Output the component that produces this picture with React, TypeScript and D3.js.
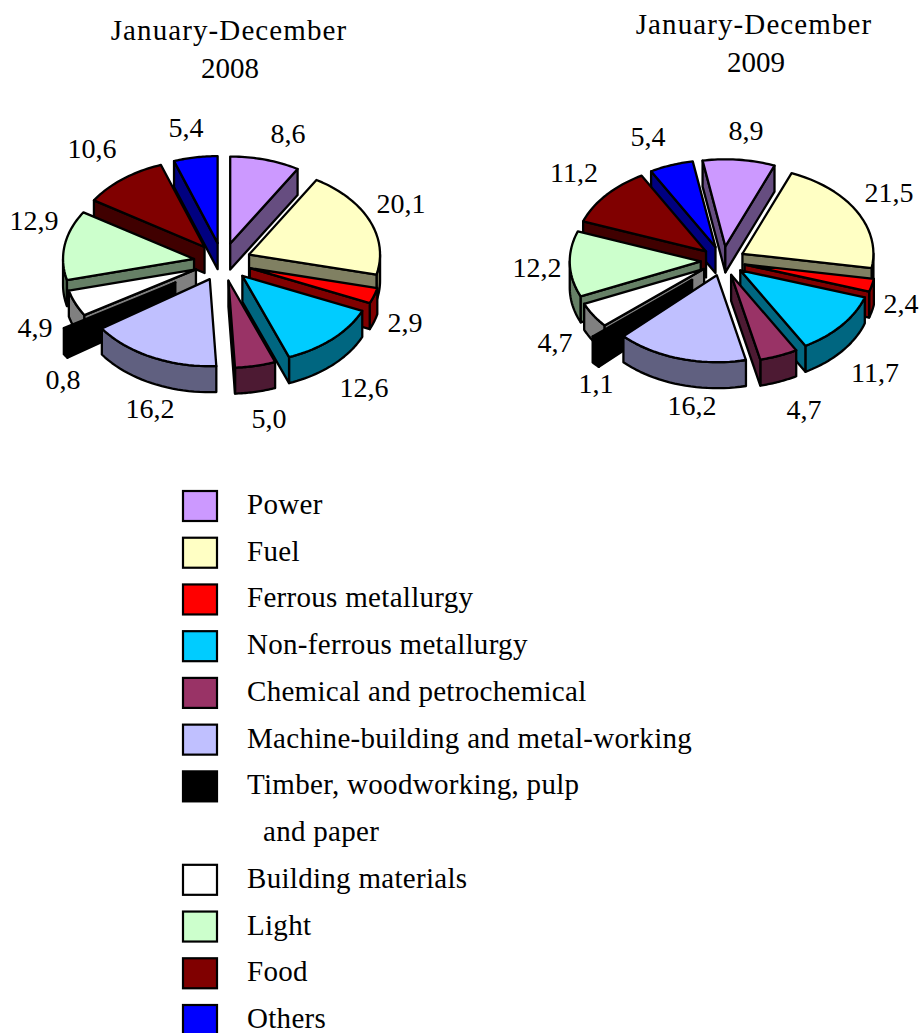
import React from "react";
import * as d3 from "d3";

const categories = ["Power","Fuel","Ferrous metallurgy","Non-ferrous metallurgy","Chemical and petrochemical","Machine-building and metal-working","Timber, woodworking, pulp","Building materials","Light","Food","Others"];
const colors = ["#CC99FF","#FFFFC4","#FF0000","#00CCFF","#993366","#C0C0FF","#000000","#FFFFFF","#CCFFCC","#800000","#0000FF"];
const values2008 = [8.6,20.1,2.9,12.6,5.0,16.2,0.8,4.9,12.9,10.6,5.4];
const values2009 = [8.9,21.5,2.4,11.7,4.7,16.2,1.1,4.7,12.2,11.2,5.4];
const labels2008 = ["8,6","20,1","2,9","12,6","5,0","16,2","0,8","4,9","12,9","10,6","5,4"];
const labels2009 = ["8,9","21,5","2,4","11,7","4,7","16,2","1,1","4,7","12,2","11,2","5,4"];

const FONT = "'Liberation Serif', 'Times New Roman', serif";
const RX = 131, RY = 87, DEPTH = 26;
const labelPos2008: [number, number][] = [[288,143],[401,213],[405,332],[364,397],[269,428],[150,418],[63,389],[35,337],[34,230],[92,158],[186,137]];
const labelPos2009: [number, number][] = [[746,140],[889,202],[901,313],[875,382],[804,419],[692,415],[596,393],[555,352],[537,277],[574,182],[648,146]];
const TIMBER = 6;

type Slice = d3.PieArcDatum<number>;

function Pie({ values, labels, labelPos, cx, cy, explode, timberExplode, rotation }: any) {
  const slices: Slice[] = d3.pie<number>().sort(null).value(d => d)
    .startAngle(rotation).endAngle(rotation + 2 * Math.PI)(values);
  const line = d3.line<[number, number]>();
  const order = slices.map((s, i) => ({ s, i, mid: (s.startAngle + s.endAngle) / 2 }))
    .sort((a, b) => Math.cos(b.mid) - Math.cos(a.mid));
  return (
    <g>
      {order.map(({ s, i, mid }) => {
        const e = i === TIMBER ? timberExplode : explode;
        const ax = cx + e * RX * Math.sin(mid);
        const ay = cy - e * RY * Math.cos(mid);
        const pt = (t: number): [number, number] => [ax + RX * Math.sin(t), ay - RY * Math.cos(t)];
        const down = (p: [number, number]): [number, number] => [p[0], p[1] + DEPTH];
        const a0 = s.startAngle, a1 = s.endAngle;
        const top: [number, number][] = [[ax, ay], ...d3.range(0, 25).map(k => pt(a0 + (a1 - a0) * k / 24))];
        const side = d3.rgb(colors[i]);
        const dark = d3.rgb(side.r * 0.5, side.g * 0.5, side.b * 0.5).formatHex();
        const walls: string[] = [];
        const lo = Math.max(a0, Math.PI / 2), hi = Math.min(a1, 1.5 * Math.PI);
        if (hi > lo) {
          const rim = d3.range(0, 25).map(k => pt(lo + (hi - lo) * k / 24));
          walls.push(line([...rim, ...rim.slice().reverse().map(down)])! + "Z");
        }
        const radial = (t: number) => {
          const o = pt(t);
          return line([[ax, ay], o, down(o), down([ax, ay])])! + "Z";
        };
        if (Math.sin(a0) < 0) walls.push(radial(a0));
        if (Math.sin(a1) > 0) walls.push(radial(a1));
        return (
          <g key={i} stroke="#000" strokeWidth={2.3} strokeLinejoin="round">
            {walls.map((d, k) => <path key={k} d={d} fill={dark} />)}
            <path d={line(top)! + "Z"} fill={colors[i]} />
          </g>
        );
      })}
      {labels.map((t: string, i: number) => (
        <text key={i} x={labelPos[i][0]} y={labelPos[i][1]} textAnchor="middle" fontSize={28} fontFamily={FONT} fill="#000">{t}</text>
      ))}
    </g>
  );
}

export default function App() {
  const rowY = d3.scaleLinear().domain([0, 11]).range([506, 1020]);
  const rows = [0,1,2,3,4,5,6,8,9,10,11];
  return (
    <svg width={921} height={1033} style={{ position: "absolute", left: 0, top: 0, display: "block" }}>
      <rect width={921} height={1033} fill="#fff" />
      <g fontFamily={FONT} fontSize={29} textAnchor="middle" fill="#000">
        <text x={229} y={40} letterSpacing={1.1}>January-December</text>
        <text x={230} y={78}>2008</text>
        <text x={754} y={34} letterSpacing={1.1}>January-December</text>
        <text x={756} y={72}>2009</text>
      </g>
      <Pie values={values2008} labels={labels2008} labelPos={labelPos2008} cx={222.5} cy={262} explode={0.22} timberExplode={0.43} rotation={0} />
      <Pie values={values2009} labels={labels2009} labelPos={labelPos2009} cx={723} cy={261} explode={0.17} timberExplode={0.32} rotation={-10 * Math.PI / 180} />
      {categories.map((c, i) => (
        <g key={c}>
          <rect x={183} y={rowY(rows[i]) - 15} width={34} height={30} fill={colors[i]} stroke="#000" strokeWidth={2.2} />
          <text x={247} y={rowY(rows[i]) + 8} fontFamily={FONT} fontSize={29} letterSpacing={0.3} fill="#000">{c}</text>
        </g>
      ))}
      <text x={263} y={rowY(7) + 8} fontFamily={FONT} fontSize={29} letterSpacing={0.3} fill="#000">and paper</text>
    </svg>
  );
}
